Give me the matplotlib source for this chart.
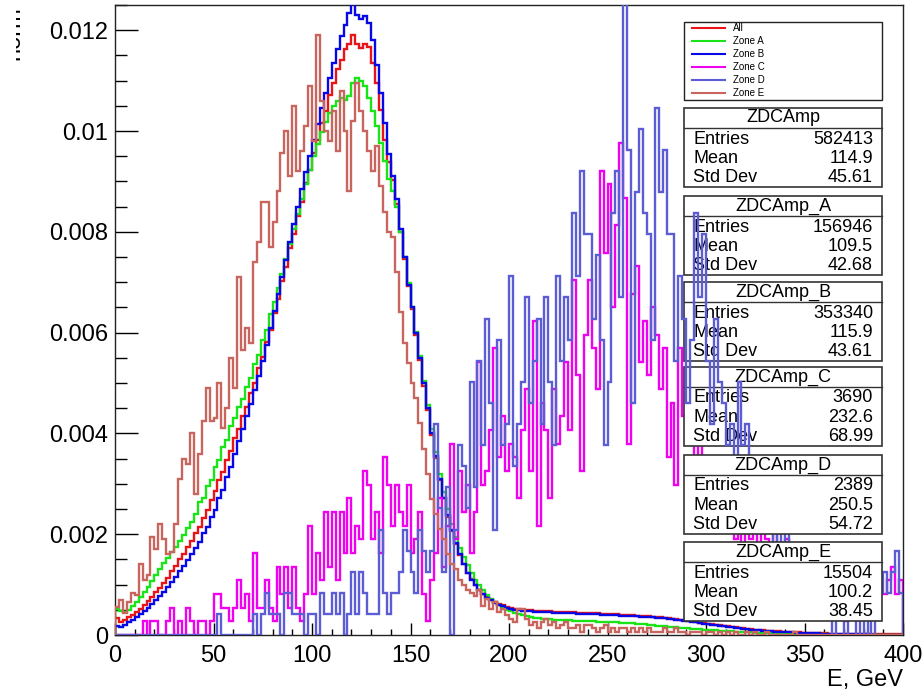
import numpy as np
import matplotlib
matplotlib.use("Agg")
import matplotlib.pyplot as plt
from matplotlib.patches import Rectangle
from matplotlib.lines import Line2D
from matplotlib.ticker import MultipleLocator, FuncFormatter
from matplotlib.transforms import Bbox, TransformedBbox

plt.rcParams['font.family'] = ['Liberation Sans', 'DejaVu Sans']

# bins: 200 bins of 2 GeV from 0 to 400
edges = np.linspace(0, 400, 201)

# normalised spectra, in units of 1e-4
all_zones = [
    3.3, 2.6, 3.0, 3.5, 4.0, 4.6, 5.2, 5.9, 6.7, 7.5,
    8.5, 9.3, 10.4, 11.3, 12.6, 13.6, 15.0, 16.0, 17.5, 18.6,
    20.2, 21.5, 23.3, 24.8, 26.8, 28.5, 30.7, 32.4, 34.7, 36.5,
    39.0, 40.8, 43.4, 45.3, 48.0, 50.0, 52.9, 55.1, 58.2, 60.6,
    63.9, 66.6, 70.2, 73.0, 76.7, 79.6, 83.2, 86.0, 89.6, 92.3,
    95.7, 98.3, 101.6, 104.0, 107.2, 109.6, 112.3, 114.0, 116.2, 117.3,
    119.0, 117.2, 116.4, 117.3, 116.6, 113.5, 109.5, 104.2, 98.3, 93.8,
    90.2, 85.6, 80.0, 74.6, 69.3, 64.6, 59.5, 54.6, 49.4, 44.6,
    39.6, 35.2, 30.7, 27.1, 23.5, 20.7, 18.1, 15.9, 14.0, 12.4,
    11.1, 10.0, 9.0, 8.2, 7.6, 7.0, 6.6, 6.2, 5.9, 5.6,
    5.4, 5.2, 5.1, 5.0, 4.9, 4.9, 4.8, 4.8, 4.7, 4.7,
    4.7, 4.6, 4.6, 4.6, 4.5, 4.5, 4.5, 4.4, 4.4, 4.4,
    4.3, 4.3, 4.3, 4.2, 4.2, 4.2, 4.1, 4.1, 4.0, 4.0,
    3.9, 3.9, 3.8, 3.8, 3.7, 3.7, 3.6, 3.5, 3.5, 3.4,
    3.3, 3.2, 3.1, 3.0, 2.9, 2.8, 2.7, 2.6, 2.4, 2.3,
    2.2, 2.1, 2.0, 1.9, 1.8, 1.7, 1.6, 1.5, 1.4, 1.3,
    1.2, 1.1, 1.0, 0.95, 0.9, 0.85, 0.8, 0.75, 0.7, 0.65,
    0.6, 0.55, 0.5, 0.5, 0.45, 0.4, 0.4, 0.35, 0.35, 0.3,
    0.3, 0.25, 0.25, 0.2, 0.2, 0.2, 0.15, 0.15, 0.15, 0.12,
    0.12, 0.12, 0.1, 0.1, 0.1, 0.12, 0.1, 0.12, 0.14, 0.1,
]

zone_a = [
    5.2, 4.7, 4.5, 5.0, 5.8, 6.6, 7.5, 8.5, 9.6, 10.8,
    12.0, 13.1, 14.2, 15.3, 16.4, 17.5, 18.7, 19.9, 21.2, 22.5,
    24.0, 26.3, 27.2, 29.6, 30.8, 33.4, 34.7, 37.3, 38.6, 41.4,
    43.0, 45.3, 46.8, 49.2, 51.0, 53.7, 55.6, 58.5, 60.6, 63.6,
    66.0, 68.8, 71.7, 74.6, 77.6, 80.6, 83.6, 86.5, 89.5, 92.3,
    95.0, 97.5, 99.8, 101.8, 103.5, 105.0, 106.0, 106.5, 106.2, 107.0,
    109.5, 110.5, 110.0, 109.0, 106.5, 104.0, 101.0, 97.6, 94.0, 90.5,
    88.0, 85.0, 80.0, 75.0, 69.8, 65.0, 60.2, 55.3, 50.4, 45.6,
    40.8, 36.4, 32.0, 28.3, 25.0, 22.0, 19.5, 17.3, 15.4, 13.8,
    12.3, 11.0, 9.9, 8.9, 8.0, 7.2, 6.5, 5.9, 5.4, 5.0,
    4.7, 4.4, 4.1, 3.9, 3.7, 3.5, 3.4, 3.3, 3.2, 3.1,
    3.1, 3.0, 3.0, 2.9, 2.9, 2.9, 2.8, 2.8, 2.8, 2.7,
    2.7, 2.7, 2.6, 2.6, 2.6, 2.5, 2.5, 2.5, 2.4, 2.4,
    2.3, 2.3, 2.2, 2.1, 2.1, 2.0, 1.9, 1.8, 1.8, 1.7,
    1.6, 1.5, 1.5, 1.4, 1.3, 1.3, 1.2, 1.1, 1.1, 1.0,
    1.0, 0.9, 0.9, 0.8, 0.8, 0.7, 0.7, 0.6, 0.6, 0.55,
    0.5, 0.5, 0.45, 0.4, 0.4, 0.35, 0.35, 0.3, 0.3, 0.25,
    0.25, 0.2, 0.2, 0.2, 0.15, 0.15, 0.15, 0.1, 0.1, 0.1,
    0.1, 0.08, 0.08, 0.08, 0.06, 0.06, 0.06, 0.05, 0.05, 0.05,
    0.04, 0.04, 0.04, 0.03, 0.03, 0.03, 0.02, 0.02, 0.02, 0.02,
]

zone_b = [
    1.7, 1.5, 2.0, 2.5, 3.0, 3.5, 4.1, 4.7, 5.4, 6.1,
    6.9, 7.7, 8.6, 9.5, 10.5, 11.5, 12.6, 13.7, 14.9, 16.1,
    17.3, 18.5, 20.3, 21.4, 23.5, 24.8, 27.2, 28.8, 31.4, 33.3,
    36.0, 38.4, 40.9, 43.4, 45.9, 48.6, 51.4, 54.4, 57.6, 60.9,
    64.2, 67.6, 71.0, 74.5, 78.0, 81.6, 85.0, 88.4, 91.8, 95.1,
    98.3, 101.4, 104.5, 107.6, 110.6, 113.5, 116.3, 118.8, 121.0, 123.5,
    125.5, 123.0, 122.2, 122.8, 121.4, 118.0, 113.0, 107.5, 101.5, 95.5,
    91.0, 86.5, 80.5, 75.0, 69.5, 65.0, 60.0, 55.0, 50.0, 45.0,
    40.0, 35.5, 31.0, 27.2, 23.8, 20.8, 18.2, 16.0, 14.0, 12.4,
    11.0, 9.9, 8.9, 8.1, 7.4, 6.9, 6.4, 6.0, 5.7, 5.4,
    5.2, 5.0, 4.9, 4.8, 4.7, 4.7, 4.6, 4.6, 4.5, 4.5,
    4.5, 4.4, 4.4, 4.4, 4.3, 4.3, 4.3, 4.2, 4.2, 4.2,
    4.1, 4.1, 4.1, 4.0, 4.0, 4.0, 3.9, 3.9, 3.8, 3.8,
    3.8, 3.7, 3.7, 3.6, 3.6, 3.5, 3.5, 3.4, 3.3, 3.3,
    3.2, 3.1, 3.0, 2.9, 2.8, 2.7, 2.6, 2.5, 2.4, 2.2,
    2.1, 2.0, 1.9, 1.8, 1.7, 1.6, 1.5, 1.4, 1.3, 1.2,
    1.1, 1.0, 0.95, 0.9, 0.8, 0.75, 0.7, 0.65, 0.6, 0.55,
    0.5, 0.5, 0.45, 0.4, 0.4, 0.35, 0.35, 0.3, 0.3, 0.25,
    0.25, 0.2, 0.2, 0.2, 0.15, 0.15, 0.15, 0.1, 0.1, 0.1,
    0.1, 0.1, 0.08, 0.08, 0.06, 0.06, 0.05, 0.05, 0.04, 0.04,
]

# zones C and D: raw counts per bin (normalised by entries below)
zone_c_counts = [
    0, 0, 0, 0, 0, 0, 0, 1, 0, 1,
    1, 0, 0, 1, 2, 0, 1, 0, 2, 1,
    0, 1, 1, 0, 1, 3, 3, 2, 2, 1,
    2, 4, 2, 3, 1, 6, 2, 2, 4, 2,
    1, 5, 3, 5, 2, 5, 2, 1, 3, 8,
    3, 6, 4, 9, 5, 9, 4, 9, 6, 10,
    6, 8, 7, 12, 11, 7, 9, 6, 13, 11,
    8, 11, 9, 8, 11, 6, 7, 9, 3, 1,
    4, 6, 10, 5, 8, 14, 7, 12, 9, 11,
    6, 9, 20, 11, 12, 15, 21, 13, 16, 12,
    14, 13, 10, 15, 18, 12, 23, 8, 17, 15,
    10, 18, 14, 16, 20, 15, 26, 19, 12, 22,
    26, 21, 18, 34, 28, 33, 24, 30, 36, 32,
    14, 25, 27, 20, 23, 19, 24, 22, 18, 21,
    13, 17, 11, 21, 16, 14, 18, 12, 14, 10,
    13, 11, 9, 12, 8, 10, 9, 7, 8, 6,
    9, 7, 8, 6, 9, 7, 5, 8, 6, 5,
    7, 4, 6, 5, 4, 3, 5, 4, 3, 4,
    2, 3, 4, 2, 3, 1, 3, 2, 4, 2,
    3, 2, 4, 5, 3, 3, 4, 5, 3, 4,
]

zone_d_counts = [
    0, 0, 0, 0, 0, 0, 0, 0, 0, 0,
    0, 0, 0, 0, 0, 0, 0, 0, 0, 0,
    0, 0, 0, 0, 0, 0, 1, 0, 0, 0,
    0, 0, 0, 0, 0, 1, 0, 1, 2, 1,
    1, 1, 0, 2, 2, 1, 1, 1, 0, 1,
    1, 0, 2, 1, 1, 2, 1, 2, 0, 1,
    3, 1, 3, 2, 1, 1, 1, 5, 2, 1,
    2, 2, 3, 5, 4, 3, 2, 5, 4, 3,
    4, 10, 6, 3, 7, 0, 5, 9, 8, 6,
    12, 7, 13, 9, 15, 11, 5, 14, 9, 10,
    17, 8, 10, 12, 16, 11, 13, 15, 10, 16,
    12, 9, 17, 13, 16, 14, 20, 17, 22, 19,
    19, 15, 18, 14, 9, 12, 20, 22, 16, 31,
    23, 11, 21, 24, 20, 19, 14, 25, 21, 23,
    19, 19, 13, 17, 15, 11, 14, 20, 16, 19,
    13, 10, 15, 12, 11, 9, 10, 8, 12, 9,
    10, 7, 8, 6, 7, 5, 6, 4, 5, 4,
    5, 3, 4, 2, 3, 2, 3, 1, 2, 1,
    1, 2, 0, 1, 1, 0, 1, 2, 0, 1,
    0, 1, 0, 1, 2, 3, 2, 3, 4, 2,
]

zone_e = [
    5.6, 7.0, 4.4, 6.5, 8.3, 8.0, 14.0, 11.0, 12.0, 19.5,
    17.0, 22.0, 19.0, 16.0, 16.5, 22.0, 31.0, 35.0, 34.0, 40.0,
    28.0, 36.0, 42.5, 49.0, 42.5, 43.0, 50.0, 41.0, 45.0, 55.0,
    49.0, 71.0, 56.5, 61.0, 58.0, 74.0, 78.0, 86.0, 86.0, 77.0,
    82.0, 88.0, 95.6, 100.0, 91.0, 105.0, 92.0, 96.0, 101.0, 109.0,
    98.0, 119.0, 106.0, 100.0, 98.0, 104.0, 96.0, 108.0, 100.0, 88.0,
    102.0, 109.5, 104.0, 100.0, 96.0, 92.0, 97.0, 89.0, 84.0, 80.0,
    79.0, 72.0, 64.0, 58.0, 54.0, 50.0, 47.0, 42.0, 37.0, 32.0,
    27.0, 24.0, 21.0, 19.0, 16.0, 14.0, 13.0, 11.0, 10.0, 9.0,
    8.4, 7.7, 9.0, 5.8, 7.1, 5.2, 6.5, 4.5, 5.2, 3.9,
    3.2, 2.6, 5.2, 5.2, 3.2, 1.9, 2.6, 1.3, 2.6, 3.2,
    1.9, 2.6, 1.3, 1.9, 2.6, 1.3, 1.3, 1.9, 0.6, 1.9,
    1.9, 1.3, 0.6, 1.3, 1.9, 0.6, 1.3, 0.6, 1.3, 1.3,
    0.6, 1.3, 0.6, 1.3, 0.6, 1.3, 0.6, 0.6, 0.6, 1.3,
    0.6, 0.6, 1.3, 0.6, 0.6, 0.0, 0.6, 0.6, 0.6, 0.0,
    0.6, 0.6, 0.0, 0.6, 0.0, 0.6, 0.0, 0.6, 0.0, 0.0,
    0.6, 0.0, 0.6, 0.0, 0.0, 0.6, 0.0, 0.0, 0.0, 0.0,
    0.0, 0.0, 0.6, 0.0, 0.0, 0.0, 0.0, 0.0, 0.0, 0.0,
    0.0, 0.0, 0.0, 0.0, 0.0, 0.0, 0.0, 0.0, 0.0, 0.0,
    0.0, 0.0, 0.0, 0.0, 0.0, 0.0, 0.0, 0.0, 0.0, 0.0,
]

series_labels = ["All", "Zone A", "Zone B", "Zone C", "Zone D", "Zone E"]
series_colors = ["#e8141a", "#18e418", "#0808e6", "#f000f0", "#5c5cd4", "#c8655f"]

stat_names = ["ZDCAmp", "ZDCAmp_A", "ZDCAmp_B", "ZDCAmp_C", "ZDCAmp_D", "ZDCAmp_E"]
stat_entries = [582413, 156946, 353340, 3690, 2389, 15504]
stat_means = ["114.9", "109.5", "115.9", "232.6", "250.5", "100.2"]
stat_stds = ["45.61", "42.68", "43.61", "68.99", "54.72", "38.45"]

W, H = 922, 691
fig = plt.figure(figsize=(W / 100, H / 100), dpi=100, facecolor="white")
ax = fig.add_axes([115 / W, (H - 635) / H, 788 / W, 630 / H])


def fx(x):
    return x / W


def fy(y):
    return 1 - y / H


series = [
    np.array(all_zones) * 1e-4,
    np.array(zone_a) * 1e-4,
    np.array(zone_b) * 1e-4,
    np.array(zone_c_counts) / stat_entries[3],
    np.array(zone_d_counts) / stat_entries[4],
    np.array(zone_e) * 1e-4,
]

# histograms and their stat boxes are stacked in drawing order
for k, vals in enumerate(series):
    ax.stairs(vals, edges, color=series_colors[k], lw=1.7, zorder=2 + 2 * k)

    top = [108, 196, 282, 367, 455, 542][k]
    z = 3 + 2 * k
    ax.add_patch(Rectangle((fx(684), fy(top + 79)), (882 - 684) / W, 79 / H,
                           transform=fig.transFigure, fc="white", ec="#333333",
                           lw=1.2, zorder=z, clip_on=False))
    ax.add_line(Line2D([fx(684), fx(882)], [fy(top + 20)] * 2, transform=fig.transFigure,
                       color="#333333", lw=1.0, zorder=z, clip_on=False))
    ax.text(fx(783), fy(top + 10), stat_names[k], transform=fig.transFigure,
            ha="center", va="center", fontsize=13, zorder=z)
    rows = [("Entries", str(stat_entries[k])), ("Mean", stat_means[k]), ("Std Dev", stat_stds[k])]
    for j, (lab, val) in enumerate(rows):
        yy = fy(top + 31 + 19.3 * j)
        ax.text(fx(693), yy, lab, transform=fig.transFigure, ha="left", va="center",
                fontsize=13, zorder=z)
        ax.text(fx(873), yy, val, transform=fig.transFigure, ha="right", va="center",
                fontsize=13, zorder=z)

# legend box
ax.add_patch(Rectangle((fx(684), fy(100)), (882 - 684) / W, 78 / H, transform=fig.transFigure,
                       fc="white", ec="#222222", lw=1.0, zorder=30, clip_on=False))
for k, lab in enumerate(series_labels):
    yy = fy(28 + 13 * k)
    ax.add_line(Line2D([fx(692), fx(725)], [yy, yy], transform=fig.transFigure,
                       color=series_colors[k], lw=1.5, zorder=31, clip_on=False))
    ax.text(fx(733), yy, lab, transform=fig.transFigure, ha="left", va="center",
            fontsize=7, zorder=31)

ax.set_xlim(0, 400)
ax.set_ylim(0, 0.0125)
ax.xaxis.set_major_locator(MultipleLocator(50))
ax.xaxis.set_minor_locator(MultipleLocator(10))
ax.yaxis.set_major_locator(MultipleLocator(0.002))
ax.yaxis.set_minor_locator(MultipleLocator(0.0005))
ax.yaxis.set_major_formatter(FuncFormatter(lambda v, p: "%g" % round(v, 4)))
ax.tick_params(axis="x", which="major", direction="in", length=8.6, width=1.0,
               labelsize=17, pad=7, top=False)
ax.tick_params(axis="x", which="minor", direction="in", length=4.5, width=1.0, top=False)
ax.tick_params(axis="y", which="major", direction="in", length=16.5, width=1.0,
               labelsize=17, pad=5, right=False)
ax.tick_params(axis="y", which="minor", direction="in", length=8.6, width=1.0, right=False)
for s in ax.spines.values():
    s.set_color("#222222")
    s.set_linewidth(1.0)

fig.text(fx(903), fy(686), "E, GeV", ha="right", va="baseline", fontsize=17)

# y title sits partly outside the canvas, only its right edge shows
ylab = fig.text(fx(24), fy(33), "norm", rotation=90, ha="right", va="center", fontsize=17)
ylab.set_clip_box(TransformedBbox(Bbox([[16 / W, 0], [1, 1]]), fig.transFigure))
ylab.set_clip_on(True)

fig.savefig("out.png", dpi=100, facecolor="white")
